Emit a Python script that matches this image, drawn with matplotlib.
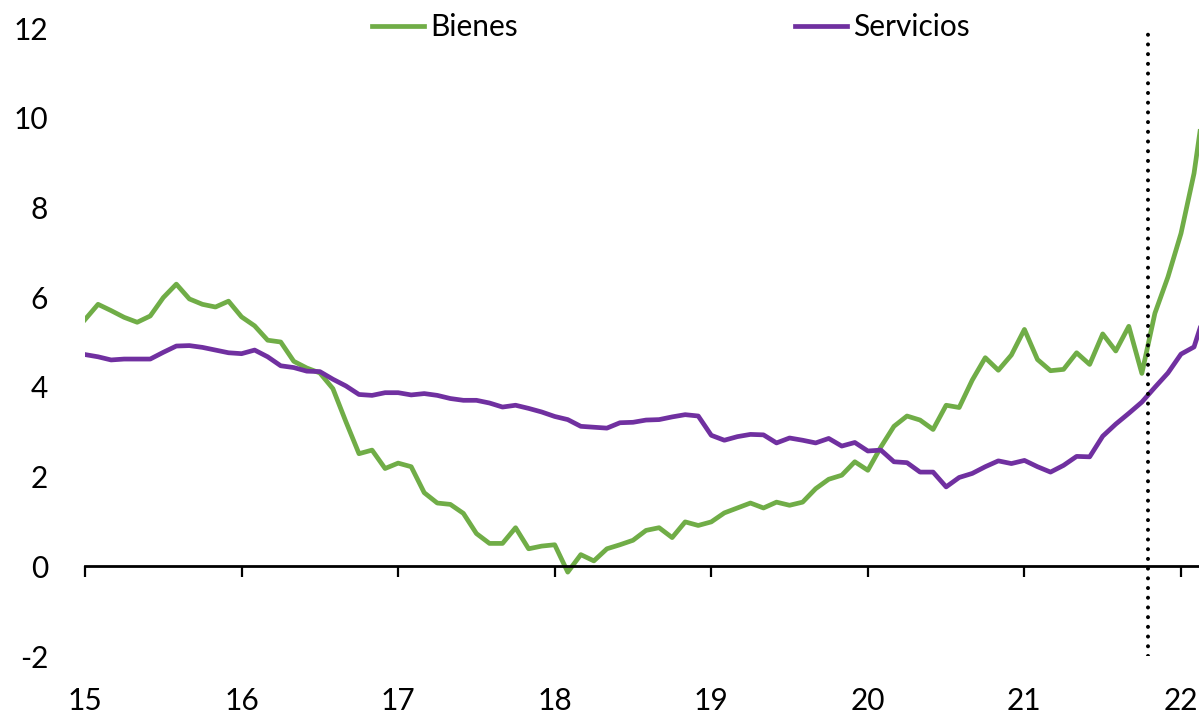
import matplotlib
matplotlib.use("Agg")
import matplotlib.pyplot as plt
import numpy as np

year_labels = ["15", "16", "17", "18", "19", "20", "21", "22"]
y_ticks = [-2, 0, 2, 4, 6, 8, 10, 12]

bienes = [5.50, 5.84, 5.70, 5.55, 5.44, 5.58, 5.99, 6.29, 5.96, 5.84, 5.78, 5.91,
          5.56, 5.36, 5.04, 5.00, 4.57, 4.42, 4.31, 3.96, 3.22, 2.51, 2.59, 2.18,
          2.30, 2.22, 1.64, 1.41, 1.38, 1.18, 0.73, 0.51, 0.51, 0.86, 0.39, 0.45,
          0.48, -0.13, 0.26, 0.12, 0.39, 0.48, 0.58, 0.80, 0.86, 0.64, 0.99, 0.91,
          0.99, 1.19, 1.30, 1.41, 1.30, 1.43, 1.36, 1.43, 1.73, 1.94, 2.03, 2.33,
          2.14, 2.66, 3.12, 3.35, 3.26, 3.05, 3.59, 3.54, 4.15, 4.65, 4.37, 4.71,
          5.28, 4.61, 4.36, 4.39, 4.76, 4.50, 5.18, 4.80, 5.35, 4.30, 5.64, 6.45,
          7.42, 8.76, 10.8]

servicios = [4.72, 4.67, 4.60, 4.62, 4.62, 4.62, 4.77, 4.91, 4.92, 4.88, 4.82, 4.76,
             4.74, 4.82, 4.67, 4.47, 4.43, 4.35, 4.34, 4.17, 4.02, 3.83, 3.81, 3.87,
             3.87, 3.82, 3.85, 3.81, 3.74, 3.70, 3.70, 3.64, 3.55, 3.59, 3.52, 3.44,
             3.34, 3.27, 3.12, 3.10, 3.08, 3.20, 3.21, 3.26, 3.27, 3.33, 3.38, 3.35,
             2.92, 2.81, 2.89, 2.94, 2.93, 2.75, 2.86, 2.81, 2.75, 2.85, 2.68, 2.76,
             2.57, 2.59, 2.33, 2.31, 2.10, 2.10, 1.77, 1.98, 2.07, 2.22, 2.35, 2.29,
             2.36, 2.22, 2.10, 2.25, 2.45, 2.44, 2.90, 3.17, 3.41, 3.66, 3.99, 4.31,
             4.73, 4.89, 5.8]

series_names = ["Bienes", "Servicios"]
series_colors = ["#70AD47", "#7030A0"]

vline_month = 81.45  # months since Jan 2015

plt.rcParams['font.family'] = ['Lato', 'DejaVu Sans']
FS = 21.5

fig = plt.figure(figsize=(11.99, 7.16), dpi=100)
ax = fig.add_axes([85 / 1199, 60 / 716, 1114 / 1199, 628 / 716])

months = np.arange(len(bienes))
l1, = ax.plot(months, bienes, color=series_colors[0], lw=3.4, label=series_names[0],
              solid_joinstyle="round")
l2, = ax.plot(months, servicios, color=series_colors[1], lw=3.4, label=series_names[1],
              solid_joinstyle="round")

ax.plot([vline_month, vline_month], [-2, 12], color="black", lw=2.9,
        linestyle=(0, (0.01, 2.4)), dash_capstyle="round")

ax.set_xlim(0, 85.38)
ax.set_ylim(-2, 12)

for s in ["top", "right", "left"]:
    ax.spines[s].set_visible(False)
ax.spines["bottom"].set_position(("data", 0))
ax.spines["bottom"].set_linewidth(2.0)
ax.spines["bottom"].set_color("black")

ax.set_xticks(np.arange(len(year_labels)) * 12)
ax.set_xticklabels(year_labels)
ax.tick_params(axis="x", direction="out", length=8, width=1.6, pad=79,
               labelsize=FS, colors="black")
ax.set_yticks(y_ticks)
ax.set_yticklabels([str(v) for v in y_ticks])
ax.tick_params(axis="y", length=0, pad=26.5, labelsize=FS, colors="black")

leg_kw = dict(loc="center left", bbox_transform=fig.transFigure, frameon=False,
              fontsize=FS, handlelength=1.75, handletextpad=0.2,
              borderpad=0, borderaxespad=0)
leg1 = ax.legend(handles=[l1], bbox_to_anchor=(372 / 1199, 1 - 27 / 716), **leg_kw)
ax.add_artist(leg1)
leg2 = ax.legend(handles=[l2], bbox_to_anchor=(795 / 1199, 1 - 27 / 716), **leg_kw)

fig.savefig("out.png", dpi=100)
